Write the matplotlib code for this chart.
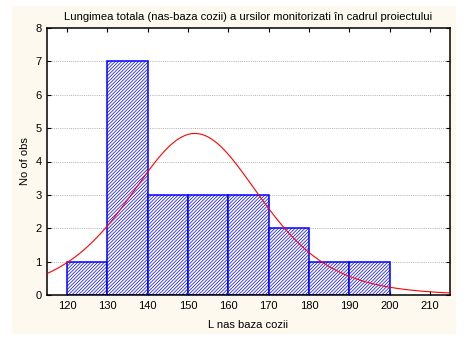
import numpy as np
import matplotlib
matplotlib.use("Agg")
import matplotlib.pyplot as plt
from matplotlib.patches import Rectangle

# histogram bins (left edges) and counts
bin_left = [120, 130, 140, 150, 160, 170, 180, 190]
counts = [1, 7, 3, 3, 3, 2, 1, 1]
bin_width = 10

# fitted curve parameters
fit_center = 151.7
fit_scale = 11.0
fit_peak = 4.84

x_ticks = [120, 130, 140, 150, 160, 170, 180, 190, 200, 210]
y_ticks = [0, 1, 2, 3, 4, 5, 6, 7, 8]

plt.rcParams["font.family"] = ["Liberation Sans", "DejaVu Sans"]
plt.rcParams["hatch.linewidth"] = 0.5
plt.rcParams["hatch.color"] = "#0000ff"

fig = plt.figure(figsize=(4.67, 3.39), dpi=100, facecolor="white")
fig.patches.append(Rectangle((12 / 467, 1 - 334 / 339), 444 / 467, 328 / 339,
                             transform=fig.transFigure, facecolor="#fdf9ee",
                             edgecolor="none", zorder=-10))
ax = fig.add_axes([47 / 467, 1 - 295 / 339, 403 / 467, 267 / 339])
ax.set_facecolor("white")

ax.bar(bin_left, counts, width=bin_width, align="edge", facecolor="white",
       edgecolor="#0000ff", linewidth=1.1, hatch="/" * 10, zorder=2)

xs = np.linspace(115, 215, 400)
u = (xs - fit_center) / (2 * fit_scale)
ys = fit_peak / np.cosh(u) ** 2
ax.plot(xs, ys, color="red", linewidth=0.8, zorder=3)

ax.set_xlim(115, 215)
ax.set_ylim(0, 8)
ax.set_xticks(x_ticks)
ax.set_yticks(y_ticks)
ax.tick_params(direction="in", length=3, width=0.8, labelsize=8,
               top=True, right=True, pad=4)
for y in y_ticks[1:-1]:
    ax.axhline(y, color="#b0b0b0", linestyle=(0, (1, 1.2)), linewidth=0.7, zorder=1)
for s in ax.spines.values():
    s.set_linewidth(1.1)

ax.set_title("Lungimea totala (nas-baza cozii) a ursilor monitorizati în cadrul proiectului",
             fontsize=8.1, pad=6)
ax.set_xlabel("L nas baza cozii", fontsize=8, labelpad=7)
ax.set_ylabel("No of obs", fontsize=8, labelpad=4)

fig.savefig("out.png", dpi=100, facecolor=fig.get_facecolor())
